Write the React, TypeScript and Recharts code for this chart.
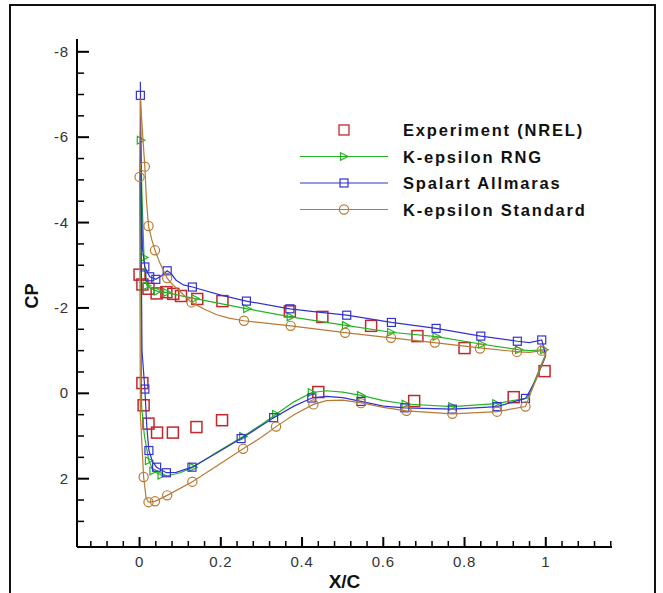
import { Legend, Scatter, ScatterChart, XAxis, YAxis } from 'recharts'

type Pt = { x: number; cp: number }

const toPts = (rows: number[][]): Pt[] => rows.map(([x, cp]) => ({ x, cp }))

// axis ticks
const X_MAJOR = [0, 0.2, 0.4, 0.6, 0.8, 1]
const X_MINOR = [-0.12, -0.08, -0.04, 0.04, 0.08, 0.12, 0.16, 0.24, 0.28, 0.32, 0.36, 0.44, 0.48, 0.52, 0.56, 0.64, 0.68, 0.72, 0.76, 0.84, 0.88, 0.92, 0.96, 1.04, 1.08, 1.12, 1.16]
const Y_MAJOR = [-8, -6, -4, -2, 0, 2]
const Y_MINOR = [-7.5, -7, -6.5, -5.5, -5, -4.5, -3.5, -3, -2.5, -1.5, -1, -0.5, 0.5, 1, 1.5, 2.5, 3]

// Experiment (NREL)
const EXPERIMENT = toPts([
  [0, -2.78], [0.007, -2.55], [0.022, -2.45], [0.042, -2.34], [0.066, -2.37], [0.083, -2.33],
  [0.102, -2.28], [0.142, -2.21], [0.204, -2.16], [0.37, -1.92], [0.45, -1.79], [0.57, -1.58],
  [0.684, -1.34], [0.8, -1.06], [0.997, -0.52],
  [0.007, -0.24], [0.01, 0.28], [0.022, 0.71], [0.043, 0.92], [0.082, 0.92], [0.14, 0.79],
  [0.203, 0.63], [0.44, -0.03], [0.676, 0.18], [0.921, 0.09],
])

// K-epsilon RNG
const RNG_CURVE = toPts([
  [1.0, -0.93], [0.996, -1.02], [0.96, -1.0], [0.934, -1.02], [0.843, -1.15], [0.731, -1.33],
  [0.619, -1.43], [0.508, -1.59], [0.372, -1.79], [0.265, -1.98], [0.2, -2.1], [0.137, -2.22],
  [0.1, -2.29], [0.068, -2.36], [0.045, -2.39], [0.026, -2.46], [0.018, -2.52], [0.013, -2.9],
  [0.011, -3.18], [0.006, -4.6], [0.003, -5.93], [0.002, -6.15], [0.003, -3.0], [0.005, 0.3],
  [0.012, 1.0], [0.023, 1.58], [0.034, 1.82], [0.054, 1.92], [0.069, 1.93], [0.1, 1.86],
  [0.132, 1.73], [0.19, 1.38], [0.255, 1.01], [0.3, 0.73], [0.336, 0.49], [0.38, 0.2],
  [0.424, -0.02], [0.46, -0.06], [0.5, -0.03], [0.545, 0.05], [0.6, 0.17], [0.655, 0.25],
  [0.77, 0.31], [0.878, 0.24], [0.955, 0.11], [0.975, -0.35], [1.0, -0.93],
])
const RNG_MARKERS = toPts([
  [0.003, -5.93], [0.011, -3.18], [0.018, -2.52], [0.045, -2.39], [0.068, -2.36], [0.137, -2.22],
  [0.265, -1.98], [0.372, -1.79], [0.508, -1.59], [0.619, -1.43], [0.731, -1.33], [0.843, -1.15],
  [0.934, -1.02], [0.996, -1.02],
  [0.023, 1.58], [0.034, 1.82], [0.054, 1.92], [0.132, 1.73], [0.255, 1.01], [0.336, 0.49],
  [0.424, -0.02], [0.545, 0.05], [0.655, 0.25], [0.77, 0.31], [0.878, 0.24],
])

// Spalart Allmaras
const SA_CURVE = toPts([
  [1.0, -0.88], [0.99, -1.25], [0.96, -1.19], [0.93, -1.22], [0.84, -1.34], [0.73, -1.52],
  [0.62, -1.66], [0.51, -1.83], [0.44, -1.9], [0.37, -1.98], [0.263, -2.16], [0.2, -2.3],
  [0.13, -2.49], [0.108, -2.54], [0.09, -2.65], [0.078, -2.8], [0.068, -2.87], [0.055, -2.76],
  [0.04, -2.67], [0.025, -2.73], [0.013, -2.96], [0.007, -3.4], [0.004, -5.0], [0.002, -7.3],
  [0.004, -3.5], [0.006, -1.0], [0.013, -0.1], [0.018, 0.8], [0.023, 1.34], [0.032, 1.6],
  [0.042, 1.73], [0.066, 1.86], [0.09, 1.85], [0.129, 1.73], [0.19, 1.4], [0.25, 1.06],
  [0.29, 0.82], [0.33, 0.57], [0.38, 0.3], [0.424, 0.11], [0.46, 0.07], [0.5, 0.1],
  [0.545, 0.19], [0.6, 0.3], [0.653, 0.34], [0.77, 0.37], [0.88, 0.31], [0.95, 0.12],
  [0.975, -0.3], [1.0, -0.88],
])
const SA_MARKERS = toPts([
  [0.002, -6.98], [0.013, -2.96], [0.025, -2.73], [0.04, -2.67], [0.068, -2.87], [0.13, -2.49],
  [0.263, -2.16], [0.37, -1.98], [0.51, -1.83], [0.62, -1.66], [0.73, -1.52], [0.84, -1.34],
  [0.93, -1.22], [0.99, -1.25],
  [0.013, -0.1], [0.023, 1.34], [0.042, 1.73], [0.066, 1.86], [0.129, 1.73], [0.25, 1.06],
  [0.33, 0.57], [0.424, 0.11], [0.545, 0.19], [0.653, 0.34], [0.77, 0.37], [0.88, 0.31],
  [0.95, 0.12],
])

// K-epsilon Standard
const STD_CURVE = toPts([
  [1.0, -0.9], [0.99, -1.0], [0.96, -0.96], [0.934, -0.97], [0.843, -1.06], [0.731, -1.18],
  [0.619, -1.3], [0.506, -1.42], [0.372, -1.58], [0.257, -1.7], [0.22, -1.76], [0.19, -1.84],
  [0.16, -1.97], [0.128, -2.13], [0.1, -2.38], [0.08, -2.56], [0.068, -2.7], [0.05, -3.05],
  [0.038, -3.35], [0.03, -3.6], [0.022, -3.92], [0.017, -4.5], [0.013, -5.31], [0.008, -6.0],
  [0.002, -6.9], [0.0, -5.07], [0.002, 0.5], [0.01, 1.96], [0.016, 2.45], [0.022, 2.55],
  [0.038, 2.53], [0.068, 2.39], [0.13, 2.07], [0.19, 1.7], [0.255, 1.3], [0.3, 1.03],
  [0.336, 0.78], [0.38, 0.5], [0.428, 0.26], [0.46, 0.17], [0.5, 0.16], [0.55, 0.23],
  [0.6, 0.33], [0.657, 0.41], [0.77, 0.48], [0.88, 0.43], [0.95, 0.31], [0.975, -0.3],
  [1.0, -0.9],
])
const STD_MARKERS = toPts([
  [0.0, -5.07], [0.013, -5.31], [0.022, -3.92], [0.038, -3.35], [0.068, -2.7], [0.128, -2.13],
  [0.257, -1.7], [0.372, -1.58], [0.506, -1.42], [0.619, -1.3], [0.727, -1.19], [0.838, -1.05],
  [0.929, -0.97], [0.99, -1.0],
  [0.01, 1.96], [0.022, 2.55], [0.038, 2.53], [0.068, 2.39], [0.13, 2.07], [0.255, 1.3],
  [0.336, 0.78], [0.428, 0.26], [0.545, 0.23], [0.657, 0.41], [0.77, 0.48], [0.88, 0.43],
  [0.95, 0.31],
])

const X_TICKS = [...X_MINOR, ...X_MAJOR].sort((a, b) => a - b)
const Y_TICKS = [...Y_MINOR, ...Y_MAJOR].sort((a, b) => a - b)

const RED = '#c0282d'
const GREEN = '#22b422'
const BLUE = '#3333d0'
const BROWN = '#b97a34'
const FONT = "'Liberation Sans', Arial, sans-serif"

function squareShape(size: number, color: string, width = 1.4) {
  return (p: any) => (
    <rect x={p.cx - size / 2} y={p.cy - size / 2} width={size} height={size} fill="none" stroke={color} strokeWidth={width} />
  )
}

function triangleShape(color: string) {
  return (p: any) => (
    <polygon
      points={`${p.cx - 3.5},${p.cy - 3.8} ${p.cx + 4},${p.cy} ${p.cx - 3.5},${p.cy + 3.8}`}
      fill="none"
      stroke={color}
      strokeWidth={1.2}
    />
  )
}

function circleShape(color: string) {
  return (p: any) => <circle cx={p.cx} cy={p.cy} r={4.6} fill="none" stroke={color} strokeWidth={1.2} />
}

const noShape = () => <g />

const LEGEND_ROWS = [
  { name: 'Experiment (NREL)', color: RED, line: false, shape: squareShape(10, RED, 1.3) },
  { name: 'K-epsilon RNG', color: GREEN, line: true, shape: triangleShape(GREEN) },
  { name: 'Spalart Allmaras', color: BLUE, line: true, shape: squareShape(8, BLUE, 1.2) },
  { name: 'K-epsilon Standard', color: BROWN, line: true, shape: circleShape(BROWN) },
]

function LegendBox() {
  return (
    <svg width={320} height={110}>
      {LEGEND_ROWS.map((row, i) => {
        const cy = 14 + i * 26.5
        return (
          <g key={row.name}>
            {row.line && <line x1={4} x2={92} y1={cy} y2={cy} stroke={row.color} strokeWidth={1.2} />}
            {row.shape({ cx: 48, cy })}
            <text
              x={107}
              y={cy + 6}
              fontFamily={FONT}
              fontWeight="bold"
              fontSize={16.5}
              letterSpacing={1.8}
              fill="#111"
            >
              {row.name}
            </text>
          </g>
        )
      })}
    </svg>
  )
}

function XTick({ x, y, payload }: any) {
  const major = X_MAJOR.includes(payload.value)
  return (
    <g>
      <line x1={x} x2={x} y1={y} y2={y - (major ? 10 : 6)} stroke="#000" strokeWidth={major ? 2 : 1.5} />
      {major && (
        <text x={x} y={y + 20} textAnchor="middle" fontFamily={FONT} fontSize={15} letterSpacing={0.8} fill="#333">
          {payload.value}
        </text>
      )}
    </g>
  )
}

function YTick({ x, y, payload }: any) {
  const major = Y_MAJOR.includes(payload.value)
  return (
    <g>
      <line x1={x} x2={x + (major ? 12 : 7)} y1={y} y2={y} stroke="#000" strokeWidth={major ? 2 : 1.5} />
      {major && (
        <text x={x - 8} y={y + 5} textAnchor="end" fontFamily={FONT} fontSize={15} letterSpacing={0.8} fill="#333">
          {payload.value}
        </text>
      )}
    </g>
  )
}

export default function App() {
  return (
    <div style={{ position: 'absolute', left: 0, top: 0, width: 663, height: 593, background: '#fff' }}>
      <div
        style={{
          position: 'absolute',
          left: 9,
          top: 4,
          width: 647,
          height: 589,
          boxSizing: 'border-box',
          border: '2px solid #111',
          borderBottom: 'none',
        }}
      />
      <ScatterChart width={663} height={593} margin={{ top: 39, right: 51, bottom: 6, left: 37 }}>
        <XAxis
          type="number"
          dataKey="x"
          domain={[-0.154, 1.163]}
          allowDataOverflow
          ticks={X_TICKS}
          interval={0}
          tickSize={0}
          tickMargin={0}
          tickLine={false}
          axisLine={{ stroke: '#000', strokeWidth: 2 }}
          height={40}
          tick={(p: any) => <XTick {...p} />}
          label={{
            content: ({ viewBox }: any) => (
              <text
                x={viewBox.x + viewBox.width / 2}
                y={viewBox.y + 41}
                textAnchor="middle"
                fontFamily={FONT}
                fontWeight="bold"
                fontSize={19}
                fill="#111"
              >
                X/C
              </text>
            ),
          }}
        />
        <YAxis
          type="number"
          dataKey="cp"
          domain={[-8.3, 3.6]}
          reversed
          allowDataOverflow
          ticks={Y_TICKS}
          interval={0}
          tickSize={0}
          tickMargin={0}
          tickLine={false}
          axisLine={{ stroke: '#000', strokeWidth: 2 }}
          width={40}
          tick={(p: any) => <YTick {...p} />}
          label={{
            content: ({ viewBox }: any) => {
              const cx = viewBox.x - 5
              const cy = viewBox.y + viewBox.height / 2 + 3
              return (
                <text
                  x={cx}
                  y={cy}
                  transform={`rotate(-90 ${cx} ${cy})`}
                  textAnchor="middle"
                  dominantBaseline="central"
                  fontFamily={FONT}
                  fontWeight="bold"
                  fontSize={18}
                  fill="#111"
                >
                  CP
                </text>
              )
            },
          }}
        />
        <Legend
          layout="vertical"
          align="center"
          verticalAlign="middle"
          content={() => <LegendBox />}
          wrapperStyle={{ left: 296, top: 116, width: 320, height: 110 }}
        />
        <Scatter name="Experiment (NREL)" data={EXPERIMENT} shape={squareShape(11, RED, 1.5)} isAnimationActive={false} />
        <Scatter data={RNG_CURVE} line={{ stroke: GREEN, strokeWidth: 1.2 }} lineType="joint" shape={noShape} isAnimationActive={false} />
        <Scatter name="K-epsilon RNG" data={RNG_MARKERS} shape={triangleShape(GREEN)} isAnimationActive={false} />
        <Scatter data={SA_CURVE} line={{ stroke: BLUE, strokeWidth: 1.2 }} lineType="joint" shape={noShape} isAnimationActive={false} />
        <Scatter name="Spalart Allmaras" data={SA_MARKERS} shape={squareShape(8, BLUE, 1.2)} isAnimationActive={false} />
        <Scatter data={STD_CURVE} line={{ stroke: BROWN, strokeWidth: 1.2 }} lineType="joint" shape={noShape} isAnimationActive={false} />
        <Scatter name="K-epsilon Standard" data={STD_MARKERS} shape={circleShape(BROWN)} isAnimationActive={false} />
      </ScatterChart>
    </div>
  )
}
